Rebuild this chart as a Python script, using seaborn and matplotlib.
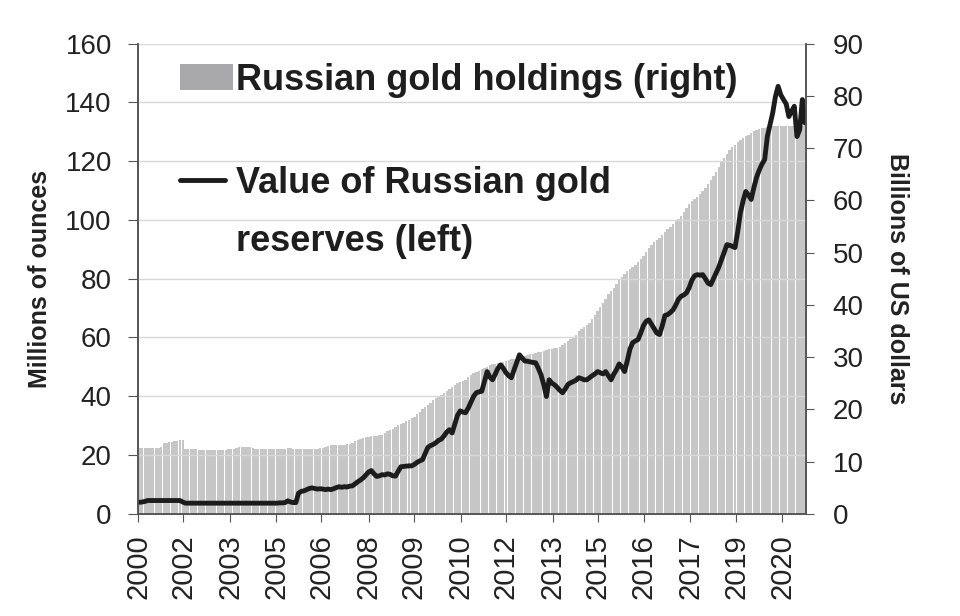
import numpy as np
import pandas as pd
import matplotlib
matplotlib.use("Agg")
import matplotlib.pyplot as plt
import seaborn as sns
from matplotlib.patches import Patch
from matplotlib.lines import Line2D

# value of Russian gold reserves, monthly (left axis)
gold_value = [
    3.9, 4.0, 4.2, 4.5, 4.5, 4.5, 4.5, 4.5, 4.5, 4.5, 4.5, 4.5,
    4.5, 4.5, 4.5, 4.5, 4.0, 3.6, 3.6, 3.6, 3.6, 3.6, 3.6, 3.6,
    3.6, 3.6, 3.6, 3.6, 3.6, 3.6, 3.6, 3.6, 3.6, 3.6, 3.6, 3.6,
    3.6, 3.6, 3.6, 3.6, 3.6, 3.6, 3.6, 3.6, 3.6, 3.6, 3.6, 3.6,
    3.6, 3.6, 3.6, 3.6, 3.7, 3.7, 3.8, 4.4, 4.0, 3.8, 3.8, 7.0,
    7.6, 7.8, 8.2, 8.6, 8.8, 8.6, 8.4, 8.5, 8.4, 8.2, 8.4, 8.2,
    8.5, 8.9, 9.2, 9.0, 9.2, 9.1, 9.4, 9.5, 10.2, 10.9, 11.5, 12.2,
    13.2, 14.2, 14.7, 13.6, 12.7, 12.9, 13.3, 13.2, 13.6, 13.4, 12.9, 12.8,
    14.5, 16.0, 16.1, 16.2, 16.3, 16.3, 16.8, 17.5, 18.0, 18.4, 20.5, 22.6,
    23.2, 23.6, 24.2, 25.0, 25.4, 26.5, 27.8, 28.6, 27.5, 30.5, 33.5, 35.0,
    34.6, 34.4, 36.0, 38.0, 40.0, 41.2, 41.5, 41.7, 45.0, 48.4, 46.5, 45.6,
    47.5, 49.5, 50.7, 49.5, 48.0, 47.0, 46.3, 49.0, 51.5, 54.1, 53.0, 52.0,
    51.9, 51.7, 51.5, 51.4, 49.5, 47.3, 44.0, 39.9, 45.6, 44.5, 43.9, 43.0,
    42.0, 41.2, 42.5, 44.0, 44.6, 45.0, 45.5, 46.3, 46.0, 45.6, 45.6, 46.3,
    47.0, 47.6, 48.4, 48.0, 47.6, 48.4, 47.0, 45.6, 47.5, 49.0, 51.0, 50.0,
    48.4, 52.0, 56.0, 58.2, 58.8, 59.3, 61.5, 64.0, 65.5, 66.0, 64.5, 63.0,
    61.5, 61.0, 64.0, 67.5, 67.8, 68.5, 69.4, 71.0, 73.0, 74.0, 74.5, 75.2,
    77.0, 79.5, 81.0, 81.4, 81.2, 81.4, 80.0, 78.5, 78.0, 80.0, 82.0, 84.0,
    86.5, 89.0, 91.6, 91.4, 91.0, 90.6, 96.0, 102.4, 106.5, 109.7, 108.5, 107.0,
    111.0, 114.5, 117.0, 119.0, 120.5, 128.4, 132.5, 136.5, 142.0, 145.5, 142.6, 141.0,
    139.5, 135.2, 137.0, 138.7, 128.4, 130.7, 141.0, 133.0,
]

# Russian gold holdings, monthly (right axis)
gold_holdings = [
    12.5, 12.5, 12.6, 12.6, 12.6, 12.6, 12.6, 12.6, 12.7, 13.5, 13.6, 13.7,
    13.8, 13.9, 14.0, 14.1, 14.2, 12.4, 12.4, 12.4, 12.4, 12.4, 12.3, 12.3,
    12.3, 12.3, 12.3, 12.3, 12.3, 12.3, 12.3, 12.3, 12.3, 12.4, 12.4, 12.4,
    12.6, 12.7, 12.7, 12.7, 12.7, 12.7, 12.6, 12.4, 12.4, 12.4, 12.4, 12.4,
    12.4, 12.4, 12.4, 12.4, 12.4, 12.4, 12.4, 12.5, 12.5, 12.4, 12.4, 12.4,
    12.4, 12.4, 12.4, 12.4, 12.4, 12.4, 12.4, 12.5, 12.6, 12.8, 12.9, 13.1,
    13.1, 13.2, 13.2, 13.2, 13.2, 13.3, 13.4, 13.6, 13.9, 14.1, 14.3, 14.5,
    14.6, 14.7, 14.8, 14.8, 14.9, 15.0, 15.1, 15.4, 15.8, 16.1, 16.3, 16.6,
    16.9, 17.2, 17.4, 17.7, 18.0, 18.3, 18.6, 19.1, 19.5, 20.0, 20.5, 20.9,
    21.3, 21.7, 22.1, 22.5, 22.8, 23.1, 23.5, 23.9, 24.3, 24.7, 25.0, 25.3,
    25.5, 25.7, 26.1, 26.6, 27.0, 27.2, 27.4, 27.7, 27.9, 28.1, 28.4, 28.6,
    28.7, 28.8, 28.9, 29.0, 29.2, 29.4, 29.6, 29.7, 29.8, 30.0, 30.1, 30.3,
    30.4, 30.5, 30.6, 30.8, 30.9, 31.0, 31.2, 31.3, 31.5, 31.6, 31.7, 31.8,
    32.0, 32.3, 32.6, 33.0, 33.5, 33.9, 34.3, 34.9, 35.4, 35.8, 36.2, 36.6,
    37.3, 38.0, 38.8, 39.6, 40.4, 41.2, 42.0, 42.7, 43.3, 44.0, 44.7, 45.3,
    45.9, 46.4, 46.8, 47.2, 47.7, 48.2, 48.7, 49.4, 50.1, 50.8, 51.5, 52.0,
    52.4, 52.8, 53.3, 53.9, 54.5, 55.0, 55.5, 56.0, 56.5, 57.0, 57.8, 58.6,
    59.3, 59.9, 60.3, 60.7, 61.2, 61.8, 62.4, 63.1, 63.9, 64.6, 65.5, 66.4,
    67.4, 68.2, 68.9, 69.6, 70.2, 70.7, 71.1, 71.5, 71.9, 72.3, 72.6, 72.9,
    73.2, 73.4, 73.6, 73.8, 73.9, 74.0, 74.1, 74.2, 74.3, 74.3, 74.3, 74.2,
    74.2, 74.2, 74.2, 74.2, 74.2, 74.2, 74.2, 74.2,
]

tick_labels = ['2000', '2002', '2003', '2005', '2006', '2008', '2009', '2010',
               '2012', '2013', '2015', '2016', '2017', '2019', '2020']
tick_pos = [-0.5, 16.2, 33.7, 50.8, 67.5, 85.0, 101.7, 119.2,
            135.9, 153.4, 170.1, 187.2, 204.3, 221.4, 238.5]

sns.set_style("ticks")
plt.rcParams['font.family'] = ['Liberation Sans', 'DejaVu Sans']

df = pd.DataFrame({'month': np.arange(len(gold_holdings)),
                   'holdings': gold_holdings,
                   'value': gold_value})

fig, ax = plt.subplots(figsize=(9.6, 6.16), dpi=100)
fig.subplots_adjust(left=0.144, right=0.840, top=0.929, bottom=0.166)
ax2 = ax.twinx()

sns.barplot(data=df, x='month', y='holdings', ax=ax2, color='#c6c6c6',
            saturation=1, width=0.88, linewidth=0, errorbar=None, native_scale=True)
sns.lineplot(data=df, x='month', y='value', ax=ax, color='#1c1c1c', linewidth=3.5)

ax.set_zorder(ax2.get_zorder() + 1)
ax.patch.set_visible(False)

ax.set_xlim(-0.5, len(gold_holdings) - 0.5)
ax.set_ylim(0, 160)
ax.set_yticks(range(0, 161, 20))
ax2.set_ylim(0, 90)
ax2.set_yticks(range(0, 91, 10))
ax.set_xticks(tick_pos)
ax.set_xticklabels(tick_labels, rotation=90)
ax.grid(axis='y', color='#d8d8d8', linewidth=1)
ax.set_xlabel('')

spine_col = '#555555'
for a in (ax, ax2):
    a.spines['top'].set_visible(False)
    for s in a.spines.values():
        s.set_color(spine_col)
        s.set_linewidth(1.2)
ax.tick_params(axis='y', labelsize=20, length=7, color=spine_col, labelcolor='#222222', pad=12)
ax2.tick_params(axis='y', labelsize=20, length=6, color=spine_col, labelcolor='#222222', pad=13)
ax.tick_params(axis='x', labelsize=21, length=6, color=spine_col, labelcolor='#222222', pad=9)
ax2.tick_params(axis='x', length=0, labelbottom=False)

ax.set_ylabel('Millions of ounces', fontsize=18, fontweight='bold', color='#222222')
ax.yaxis.set_label_coords(-0.129, 0.5)
ax2.set_ylabel('Billions of US dollars', fontsize=18, fontweight='bold', color='#222222',
               rotation=270, va='bottom')
ax2.yaxis.set_label_coords(1.117, 0.5)

leg_font = {'size': 26, 'weight': 'bold'}
leg1 = ax.legend([Patch(facecolor='#a9a9ab', edgecolor='none')],
                 ['Russian gold holdings (right)'],
                 loc='upper left', bbox_to_anchor=(0.063, 0.96), frameon=False,
                 prop=leg_font, handlelength=1.45, handleheight=0.7,
                 handletextpad=0.1, borderpad=0, borderaxespad=0)
for t in leg1.get_texts():
    t.set_color('#1e1e1e')
ax.add_artist(leg1)
leg2 = ax.legend([Line2D([], [], color='#1c1c1c', linewidth=3.5),
                  Line2D([], [], color='none')],
                 ['Value of Russian gold', 'reserves (left)'],
                 loc='upper left', bbox_to_anchor=(0.063, 0.74), frameon=False,
                 prop=leg_font, handlelength=1.25, handletextpad=0.3,
                 labelspacing=0.64, borderpad=0, borderaxespad=0)
for t in leg2.get_texts():
    t.set_color('#1e1e1e')

fig.savefig('out.png', dpi=100)
